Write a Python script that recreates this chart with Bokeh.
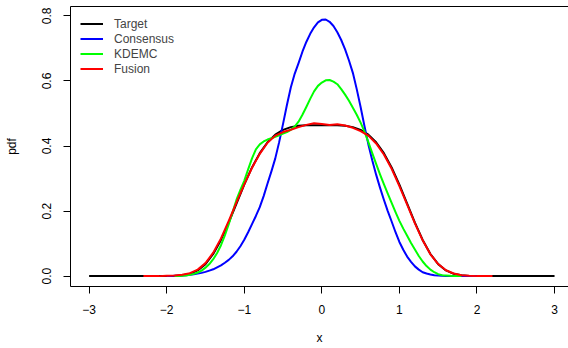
from bokeh.plotting import figure
from bokeh.models import LinearAxis, Range1d, Legend, LegendItem, FixedTicker
from bokeh.embed import file_html
from bokeh.resources import INLINE

# ---- data ----
target_x = [round(-3.0 + 0.1 * i, 1) for i in range(61)]
target_half = [0.4640, 0.4640, 0.4636, 0.4621, 0.4581, 0.4497, 0.4349, 0.4115, 0.3781,
               0.3342, 0.2814, 0.2231, 0.1645, 0.1113, 0.0680, 0.0369, 0.0175, 0.0071,
               0.0024, 0.0007, 0.0002, 0.0, 0.0, 0.0, 0.0, 0.0, 0.0, 0.0, 0.0, 0.0, 0.0]
# values for x = -3.0 ... 3.0
target_y = target_half[::-1] + target_half[1:]

consensus_x = [round(-2.0 + 0.05 * i, 2) for i in range(81)]
consensus_y = [0.000, 0.000, 0.001, 0.001, 0.002, 0.003, 0.004, 0.006, 0.008, 0.010,
               0.013, 0.017, 0.021, 0.027, 0.033, 0.041, 0.050, 0.061, 0.075, 0.092,
               0.112, 0.135, 0.160, 0.185, 0.212, 0.246, 0.285, 0.322, 0.362, 0.412,
               0.468, 0.526, 0.580, 0.622, 0.655, 0.690, 0.720, 0.745, 0.765, 0.780,
               0.788, 0.789, 0.782, 0.769, 0.750, 0.726, 0.697, 0.663, 0.625, 0.575,
               0.520, 0.461, 0.405, 0.356, 0.312, 0.272, 0.235, 0.200, 0.168, 0.135,
               0.105, 0.081, 0.060, 0.044, 0.030, 0.020, 0.012, 0.008, 0.005, 0.003,
               0.002, 0.001, 0.000, 0.000, 0.000, 0.000, 0.000, 0.000, 0.000, 0.000, 0.000]

kdemc_x = [round(-1.9 + 0.05 * i, 2) for i in range(75)]
kdemc_y = [0.000, 0.000, 0.001, 0.002, 0.004, 0.007, 0.011, 0.017, 0.026, 0.037,
           0.052, 0.071, 0.095, 0.125, 0.160, 0.197, 0.235, 0.265, 0.293, 0.328,
           0.362, 0.390, 0.405, 0.414, 0.420, 0.424, 0.428, 0.433, 0.438, 0.443,
           0.450, 0.460, 0.475, 0.496, 0.520, 0.545, 0.568, 0.585, 0.595, 0.602,
           0.603, 0.598, 0.590, 0.575, 0.558, 0.539, 0.518, 0.496, 0.472, 0.444,
           0.412, 0.378, 0.345, 0.313, 0.283, 0.254, 0.225, 0.197, 0.170, 0.146,
           0.124, 0.102, 0.082, 0.062, 0.045, 0.031, 0.020, 0.012, 0.006, 0.003,
           0.002, 0.001, 0.000, 0.000, 0.000]

fusion_x = [round(-2.3 + 0.1 * i, 1) for i in range(46)]
fusion_y = [0.000, 0.000, 0.000, 0.001, 0.002, 0.004, 0.009, 0.020, 0.040, 0.072,
            0.116, 0.170, 0.227, 0.282, 0.333, 0.376, 0.410, 0.432, 0.443, 0.450,
            0.458, 0.465, 0.470, 0.468, 0.465, 0.467, 0.463, 0.456, 0.446, 0.432,
            0.408, 0.374, 0.330, 0.277, 0.220, 0.162, 0.110, 0.067, 0.037, 0.018,
            0.008, 0.003, 0.001, 0.000, 0.000, 0.000]

x_ticks = [-3, -2, -1, 0, 1, 2, 3]
x_tick_labels = ["\u22123", "\u22122", "\u22121", "0", "1", "2", "3"]
y_ticks = [0.0, 0.2, 0.4, 0.6, 0.8]
y_tick_labels = ["0.0", "0.2", "0.4", "0.6", "0.8"]

series_names = ["Target", "Consensus", "KDEMC", "Fusion"]
series_colors = ["#000000", "#0000FF", "#00FF00", "#FF0000"]

FONT = "Liberation Sans"

p = figure(width=568, height=348, output_backend="svg", toolbar_location=None,
           x_range=Range1d(-3.24, 3.18), y_range=Range1d(-0.0319, 0.829),
           min_border_left=70, min_border_right=0, min_border_top=6, min_border_bottom=62,
           x_axis_label="x", y_axis_label="pdf")
p.grid.visible = False
p.outline_line_color = None
p.background_fill_color = "white"
p.border_fill_color = "white"

renderers = []
for xs, ys, c in [(target_x, target_y, series_colors[0]),
                  (consensus_x, consensus_y, series_colors[1]),
                  (kdemc_x, kdemc_y, series_colors[2]),
                  (fusion_x, fusion_y, series_colors[3])]:
    r = p.line(xs, ys, line_color=c, line_width=2, line_join="round")
    renderers.append(r)

for ax, ticks, labels in [(p.xaxis[0], x_ticks, x_tick_labels), (p.yaxis[0], y_ticks, y_tick_labels)]:
    ax.ticker = FixedTicker(ticks=ticks)
    ax.major_label_overrides = {t: l for t, l in zip(ticks, labels)}
    ax.minor_tick_line_color = None
    ax.major_tick_in = 0
    ax.major_tick_out = 7
    ax.major_tick_line_color = "black"
    ax.axis_line_color = "black"
    ax.major_label_text_font = FONT
    ax.major_label_text_font_size = "12px"
    ax.major_label_text_color = "black"
    ax.axis_label_text_font = FONT
    ax.axis_label_text_font_size = "12px"
    ax.axis_label_text_font_style = "normal"
    ax.axis_label_text_color = "black"

p.xaxis[0].major_label_standoff = 11
p.xaxis[0].axis_label_standoff = 14
p.yaxis[0].major_label_orientation = "parallel"
p.yaxis[0].major_label_standoff = 12
p.yaxis[0].axis_label_standoff = 21

top_axis = LinearAxis(ticker=FixedTicker(ticks=[]), major_tick_out=0, major_tick_in=0,
                      minor_tick_out=0, minor_tick_in=0, major_label_text_font_size="0px",
                      axis_line_color="black")
p.add_layout(top_axis, "above")

legend = Legend(items=[LegendItem(label=n, renderers=[r]) for n, r in zip(series_names, renderers)],
                location="top_left", margin=10, padding=10, spacing=0,
                glyph_width=23, glyph_height=15, label_height=15, label_standoff=11,
                label_text_font=FONT, label_text_font_size="12px",
                border_line_color=None, background_fill_alpha=0)
p.add_layout(legend)

open("out.html", "w").write(file_html(p, INLINE))
